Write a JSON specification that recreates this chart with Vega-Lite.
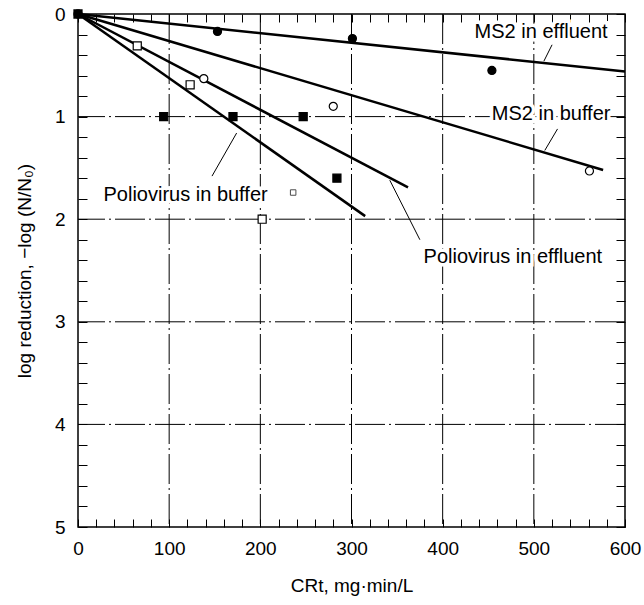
{
  "$schema": "https://vega.github.io/schema/vega-lite/v6.json",
  "width": 547,
  "height": 513,
  "autosize": "none",
  "padding": {"left": 78, "top": 14, "right": 19, "bottom": 78},
  "background": "white",
  "config": {
    "view": {"stroke": "black", "strokeWidth": 1.5},
    "font": "Liberation Sans",
    "axis": {"labelFont": "Liberation Sans", "titleFont": "Liberation Sans", "labelColor": "black", "titleColor": "black", "tickColor": "black", "labelFontSize": 19, "titleFontSize": 19, "titleFontWeight": "normal", "labelOverlap": false, "labelFlush": false, "grid": false, "domain": false}
  },
  "datasets": {
    "vgrid": [{"gx": 100}, {"gx": 200}, {"gx": 300}, {"gx": 400}, {"gx": 500}],
    "hgrid": [{"gy": 1}, {"gy": 2}, {"gy": 3}, {"gy": 4}],
    "lines": [
      {"series": "MS2 in effluent", "x": 0, "y": 0},
      {"series": "MS2 in effluent", "x": 600, "y": 0.56},
      {"series": "MS2 in buffer", "x": 0, "y": 0},
      {"series": "MS2 in buffer", "x": 576, "y": 1.52},
      {"series": "Poliovirus in buffer", "x": 0, "y": 0},
      {"series": "Poliovirus in buffer", "x": 315, "y": 1.97},
      {"series": "Poliovirus in effluent", "x": 0, "y": 0},
      {"series": "Poliovirus in effluent", "x": 362, "y": 1.69}
    ],
    "points": [
      {"series": "MS2 in effluent", "x": 0, "y": 0},
      {"series": "MS2 in effluent", "x": 153, "y": 0.17},
      {"series": "MS2 in effluent", "x": 301, "y": 0.24},
      {"series": "MS2 in effluent", "x": 454, "y": 0.55},
      {"series": "MS2 in buffer", "x": 138, "y": 0.63},
      {"series": "MS2 in buffer", "x": 280, "y": 0.9},
      {"series": "MS2 in buffer", "x": 561, "y": 1.53},
      {"series": "Poliovirus in buffer", "x": 65, "y": 0.31},
      {"series": "Poliovirus in buffer", "x": 123, "y": 0.69},
      {"series": "Poliovirus in buffer", "x": 202, "y": 2.0},
      {"series": "Poliovirus in effluent", "x": 0, "y": 0},
      {"series": "Poliovirus in effluent", "x": 94, "y": 1.0},
      {"series": "Poliovirus in effluent", "x": 170, "y": 1.0},
      {"series": "Poliovirus in effluent", "x": 247, "y": 1.0},
      {"series": "Poliovirus in effluent", "x": 284, "y": 1.6}
    ],
    "smallpts": [{"x": 236, "y": 1.74}],
    "labels": [
      {"text": "MS2 in effluent", "x": 508, "y": 0.18},
      {"text": "MS2 in buffer", "x": 519, "y": 0.97},
      {"text": "Poliovirus in buffer", "x": 118, "y": 1.76},
      {"text": "Poliovirus in effluent", "x": 477, "y": 2.37}
    ],
    "leaders": [
      {"x": 520, "y": 0.3, "x2": 511, "y2": 0.46},
      {"x": 526, "y": 1.12, "x2": 512, "y2": 1.33},
      {"x": 147, "y": 1.58, "x2": 174, "y2": 1.16},
      {"x": 342, "y": 1.62, "x2": 375, "y2": 2.2}
    ]
  },
  "resolve": {"axis": {"x": "independent", "y": "independent"}},
  "layer": [
    {
      "data": {"name": "vgrid"},
      "mark": {"type": "rule", "color": "black", "strokeWidth": 1, "strokeDash": [30, 4, 2, 4]},
      "encoding": {
        "x": {"field": "gx", "type": "quantitative", "scale": {"domain": [0, 600], "nice": false, "zero": false},
          "axis": {"orient": "bottom", "title": "CRt, mg·min/L", "values": [0,20,40,60,80,100,120,140,160,180,200,220,240,260,280,300,320,340,360,380,400,420,440,460,480,500,520,540,560,580,600],
            "labelExpr": "datum.value % 100 === 0 ? datum.label : ''", "tickSize": -8, "labelPadding": 20, "titlePadding": 18}}
      }
    },
    {
      "data": {"name": "hgrid"},
      "mark": {"type": "rule", "color": "black", "strokeWidth": 1, "strokeDash": [30, 4, 2, 4]},
      "encoding": {
        "y": {"field": "gy", "type": "quantitative", "scale": {"domain": [0, 5], "reverse": true, "nice": false, "zero": false},
          "axis": {"orient": "left", "title": "log reduction, −log (N/N₀)", "values": [0,0.2,0.4,0.6,0.8,1,1.2,1.4,1.6,1.8,2,2.2,2.4,2.6,2.8,3,3.2,3.4,3.6,3.8,4,4.2,4.4,4.6,4.8,5],
            "labelExpr": "abs(datum.value - round(datum.value)) < 0.001 ? format(datum.value, 'd') : ''", "tickSize": -9, "labelPadding": 22, "titlePadding": 20}}
      }
    },
    {
      "data": {"name": "labels"},
      "mark": {"type": "text", "font": "Liberation Sans", "fontSize": 20, "color": "white", "stroke": "white", "strokeWidth": 7, "align": "center", "baseline": "middle"},
      "encoding": {
        "x": {"field": "x", "type": "quantitative", "axis": null},
        "y": {"field": "y", "type": "quantitative", "axis": null},
        "text": {"field": "text"}
      }
    },
    {
      "data": {"name": "lines"},
      "mark": {"type": "line", "color": "black", "strokeWidth": 2.5},
      "encoding": {
        "x": {"field": "x", "type": "quantitative", "axis": {"orient": "top", "title": null, "labels": false, "tickSize": -8, "values": [0,20,40,60,80,100,120,140,160,180,200,220,240,260,280,300,320,340,360,380,400,420,440,460,480,500,520,540,560,580,600]}},
        "y": {"field": "y", "type": "quantitative", "axis": {"orient": "right", "title": null, "labels": false, "tickSize": -9, "values": [0,0.2,0.4,0.6,0.8,1,1.2,1.4,1.6,1.8,2,2.2,2.4,2.6,2.8,3,3.2,3.4,3.6,3.8,4,4.2,4.4,4.6,4.8,5]}},
        "detail": {"field": "series"}
      }
    },
    {
      "data": {"name": "leaders"},
      "mark": {"type": "rule", "color": "black", "strokeWidth": 1},
      "encoding": {
        "x": {"field": "x", "type": "quantitative", "axis": null},
        "y": {"field": "y", "type": "quantitative", "axis": null},
        "x2": {"field": "x2"},
        "y2": {"field": "y2"}
      }
    },
    {
      "data": {"name": "points"},
      "mark": {"type": "point", "filled": true, "stroke": "black", "strokeWidth": 1.2, "opacity": 1},
      "encoding": {
        "x": {"field": "x", "type": "quantitative", "axis": null},
        "y": {"field": "y", "type": "quantitative", "axis": null},
        "shape": {"field": "series", "type": "nominal", "legend": null, "scale": {"domain": ["MS2 in effluent", "MS2 in buffer", "Poliovirus in buffer", "Poliovirus in effluent"], "range": ["circle", "circle", "square", "square"]}},
        "fill": {"field": "series", "type": "nominal", "legend": null, "scale": {"domain": ["MS2 in effluent", "MS2 in buffer", "Poliovirus in buffer", "Poliovirus in effluent"], "range": ["black", "white", "white", "black"]}},
        "size": {"field": "series", "type": "nominal", "legend": null, "scale": {"domain": ["MS2 in effluent", "MS2 in buffer", "Poliovirus in buffer", "Poliovirus in effluent"], "range": [65, 65, 85, 100]}}
      }
    },
    {
      "data": {"name": "smallpts"},
      "mark": {"type": "point", "shape": "square", "filled": false, "stroke": "black", "strokeWidth": 1, "size": 30},
      "encoding": {
        "x": {"field": "x", "type": "quantitative", "axis": null},
        "y": {"field": "y", "type": "quantitative", "axis": null}
      }
    },
    {
      "data": {"name": "labels"},
      "mark": {"type": "text", "font": "Liberation Sans", "fontSize": 20, "color": "black", "align": "center", "baseline": "middle"},
      "encoding": {
        "x": {"field": "x", "type": "quantitative", "axis": null},
        "y": {"field": "y", "type": "quantitative", "axis": null},
        "text": {"field": "text"}
      }
    }
  ]
}
